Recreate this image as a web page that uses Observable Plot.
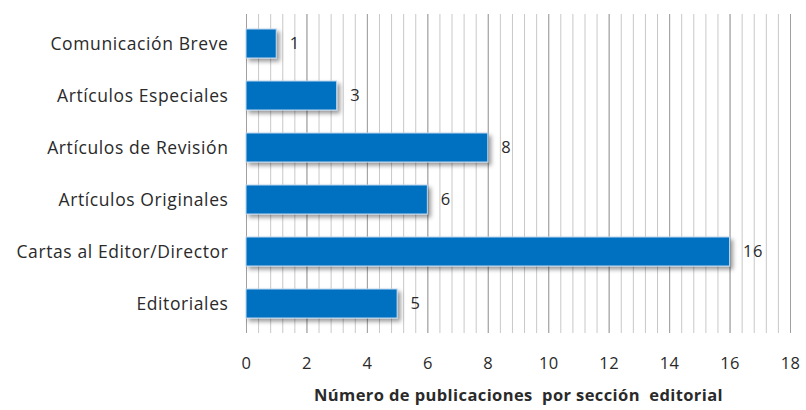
<!DOCTYPE html>
<html><head><meta charset="utf-8">
<script src="https://cdn.jsdelivr.net/npm/d3@7"></script>
<script src="https://cdn.jsdelivr.net/npm/@observablehq/plot@0.6"></script>
<style>
body{margin:0;background:#fff;}
#chart svg{font-family:"Open Sans",sans-serif;}
</style>
</head><body><div id="chart"></div>
<script>
const categories = ["Comunicación Breve","Artículos Especiales","Artículos de Revisión","Artículos Originales","Cartas al Editor/Director","Editoriales"];
const values = [1,3,8,6,16,5];
const xTicks = [0,2,4,6,8,10,12,14,16,18];
const minorGrid = d3.range(0, 18.001, 0.4).map(v => +v.toFixed(1));
const xLabel = "Número de publicaciones  por sección  editorial";

const data = categories.map((c,i)=>({cat:c, v:values[i]}));

const plot = Plot.plot({
  width: 806, height: 410,
  marginLeft: 246, marginRight: 16, marginTop: 14, marginBottom: 77,
  style:{fontSize:"16.5px", fontFamily:"'Open Sans', sans-serif", color:"#2a2a2a", letterSpacing:"0.4px"},
  x:{domain:[0,18], ticks:xTicks, tickSize:0, tickPadding:24, label:null},
  y:{domain:categories, paddingInner:0.45, paddingOuter:0.25, tickSize:0, tickPadding:18, label:null, tickFormat:d=>d},
  marks:[
    Plot.ruleX(minorGrid, {x:d=>d, stroke:"#c8c8c8", strokeWidth:1}),
    Plot.ruleX(xTicks, {x:d=>d, stroke:"#a0a0a0", strokeWidth:1}),
    Plot.barX(data, {y:"cat", x:"v", fill:"#0070C0", stroke:"#bcd6ee", strokeWidth:1, className:"bars"}),
    Plot.text(data, {y:"cat", x:"v", text:d=>String(d.v), dx:13, textAnchor:"start", fill:"#2a2a2a", fontSize:16.5}),
    Plot.text([xLabel], {frameAnchor:"bottom", dy:67, text:d=>d, fontWeight:"bold", fontSize:16.5, fill:"#2a2a2a"})
  ]
});
document.getElementById("chart").appendChild(plot);
const svg = d3.select(plot);
svg.selectAll("g[aria-label='y-axis tick label'] text").style("font-size","17.5px").style("letter-spacing","0.6px");
const defs = svg.insert("defs", ":first-child");
const f = defs.append("filter").attr("id","sh").attr("x","-10%").attr("y","-30%").attr("width","130%").attr("height","180%");
f.append("feDropShadow").attr("dx",3).attr("dy",3).attr("stdDeviation",2.2).attr("flood-color","#000").attr("flood-opacity",0.4);
svg.selectAll("g.bars").attr("filter","url(#sh)");
</script></body></html>
